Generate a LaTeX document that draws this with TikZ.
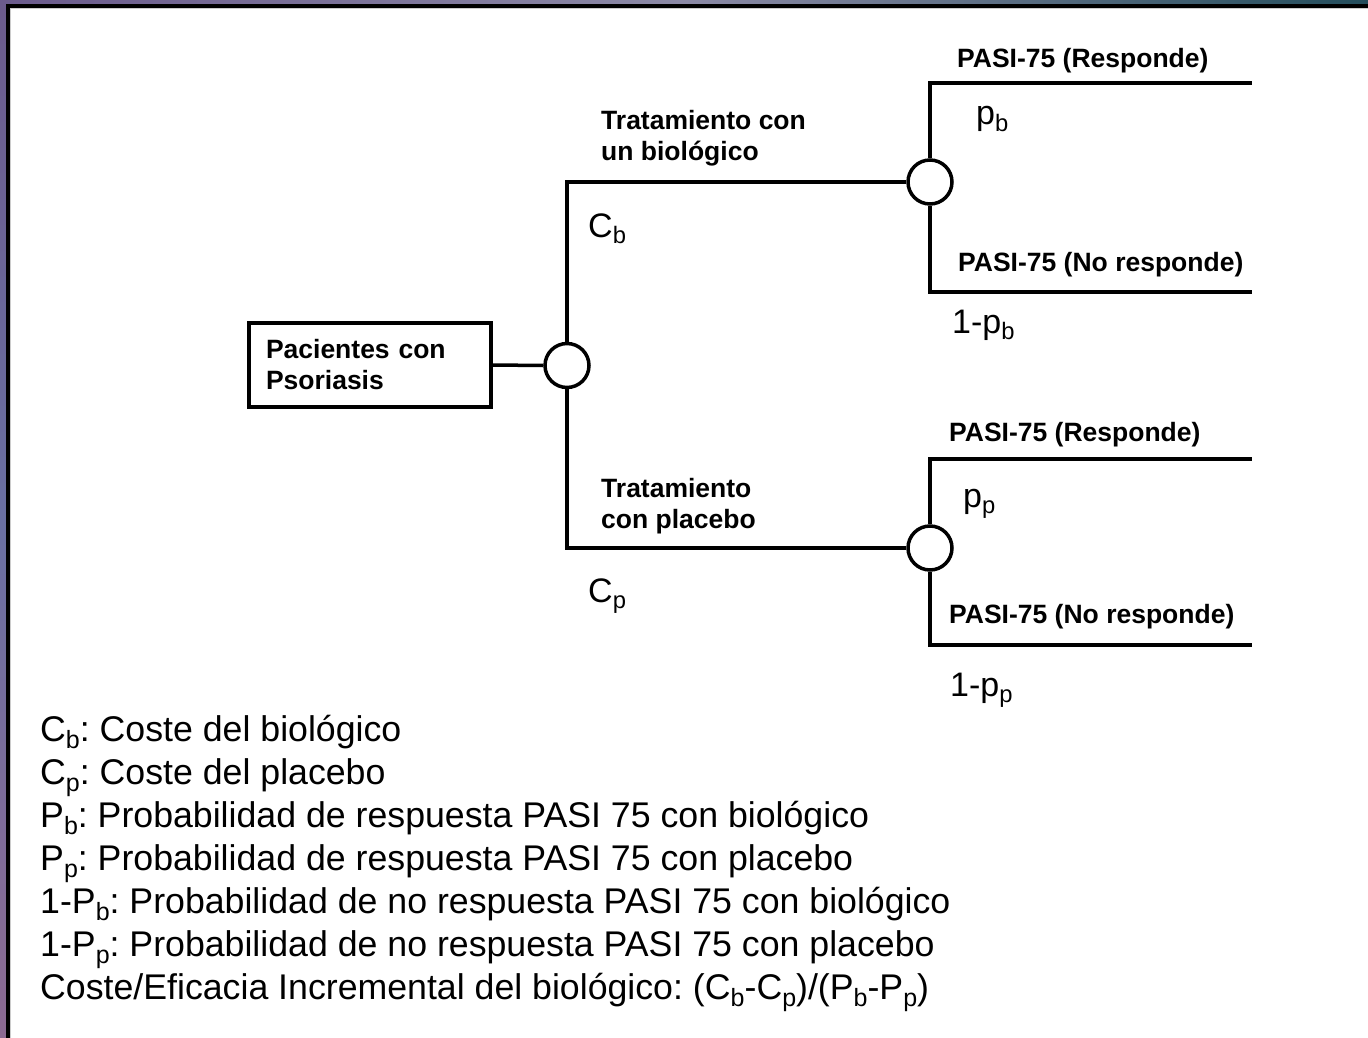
\documentclass[tikz,border=0pt]{standalone}
\usepackage{fontspec}
\setmainfont{Liberation Sans}
\usepackage{tikz}
\usetikzlibrary{shapes,positioning}
\frenchspacing

\definecolor{BandPurple}{HTML}{6B5B8C}
\definecolor{BandGray}{HTML}{8C8AA6}
\definecolor{BandTeal}{HTML}{244E5C}
\definecolor{BandBlue}{HTML}{6A6FA2}
\definecolor{BandPink}{HTML}{8C6A92}

% lowered index, as in C_b
\newcommand{\lowidx}[1]{\raisebox{-0.2em}{\scalebox{0.7}{#1}}}

\begin{document}
\begin{tikzpicture}[x=1pt,y=-1pt]
		\tikzstyle{Chance}	= [circle, draw, line width=3.5pt, fill=white, minimum size=44pt, inner sep=0pt]
		\tikzstyle{Start}	= [rectangle, draw, line width=3.5pt, fill=white, text width=208pt, minimum height=84pt, inner sep=17pt, align=left, font=\bfseries\fontsize{26.5}{31}\selectfont]
		\tikzstyle{Branch}	= [line width=3.5pt]
		\tikzstyle{Option}	= [inner sep=0pt, align=left, anchor=north west, font=\bfseries\fontsize{26.5}{31}\selectfont]
		\tikzstyle{Outcome}	= [inner sep=0pt, anchor=base west, font=\bfseries\fontsize{26.5}{31}\selectfont]
		\tikzstyle{Prob}	= [inner sep=0pt, anchor=base west, font=\fontsize{34}{40}\selectfont]
		\tikzstyle{Legend}	= [inner sep=0pt, anchor=base west, font=\fontsize{35.7}{43}\selectfont]

		\useasboundingbox (0,0) rectangle (1368,1038);
		\fill[white] (0,0) rectangle (1368,1038);

		% slide frame
		\fill[left color=BandPurple, right color=BandTeal, middle color=BandGray] (0,0) rectangle (1368,5);
		\fill[top color=BandPurple, bottom color=BandPink, middle color=BandBlue] (0,5) rectangle (6,1038);
		\draw[line width=4pt] (8,1038) -- (8,6) -- (1368,6);
		\draw[gray!40, line width=1pt] (10.5,1038) -- (10.5,8.5) -- (1368,8.5);

		% decision tree
		\node (pac) at (370,365) [Start] {Pacientes con\\Psoriasis};
		\node (c0) at (567,365.5) [Chance] {};
		\node (c1) at (930,182) [Chance] {};
		\node (c2) at (930,548) [Chance] {};

		\coordinate (r1) at (1252,83);
		\coordinate (r2) at (1252,292);
		\coordinate (r3) at (1252,459);
		\coordinate (r4) at (1252,645);

		\draw [Branch] (pac.east) -- (c0.west);
		\draw [Branch] (c0.north) |- (c1.west);
		\draw [Branch] (c0.south) |- (c2.west);
		\draw [Branch] (c1.north) |- (r1);
		\draw [Branch] (c1.south) |- (r2);
		\draw [Branch] (c2.north) |- (r3);
		\draw [Branch] (c2.south) |- (r4);

		\node (tb) at (601,110.5) [Option] {Tratamiento con\\un biológico};
		\node (tp) at (601,478.5) [Option] {Tratamiento\\con placebo};
		\node (cb) at (588,237) [Prob] {C\lowidx{b}};
		\node (cp) at (588,602) [Prob] {C\lowidx{p}};

		\node (rb) at (957,67.5) [Outcome] {PASI-75 (Responde)};
		\node (nb) at (958,271.5) [Outcome] {PASI-75 (No responde)};
		\node (rp) at (949,441.5) [Outcome] {PASI-75 (Responde)};
		\node (np) at (949,623.5) [Outcome] {PASI-75 (No responde)};

		\node (pb) at (976,125) [Prob] {p\lowidx{b}};
		\node (qb) at (952,333) [Prob] {1-p\lowidx{b}};
		\node (pp) at (963,507) [Prob] {p\lowidx{p}};
		\node (qp) at (950,696) [Prob] {1-p\lowidx{p}};

		% legend
		\node (l1) at (40,741) [Legend] {C\lowidx{b}: Coste del biológico};
		\node (l2) at (40,784) [Legend] {C\lowidx{p}: Coste del placebo};
		\node (l3) at (40,827) [Legend] {P\lowidx{b}: Probabilidad de respuesta PASI 75 con biológico};
		\node (l4) at (40,870) [Legend] {P\lowidx{p}: Probabilidad de respuesta PASI 75 con placebo};
		\node (l5) at (40,913) [Legend] {1-P\lowidx{b}: Probabilidad de no respuesta PASI 75 con biológico};
		\node (l6) at (40,956) [Legend] {1-P\lowidx{p}: Probabilidad de no respuesta PASI 75 con placebo};
		\node (l7) at (40,999) [Legend] {Coste/Eficacia Incremental del biológico: (C\lowidx{b}-C\lowidx{p})/(P\lowidx{b}-P\lowidx{p})};
	\end{tikzpicture}
\end{document}
